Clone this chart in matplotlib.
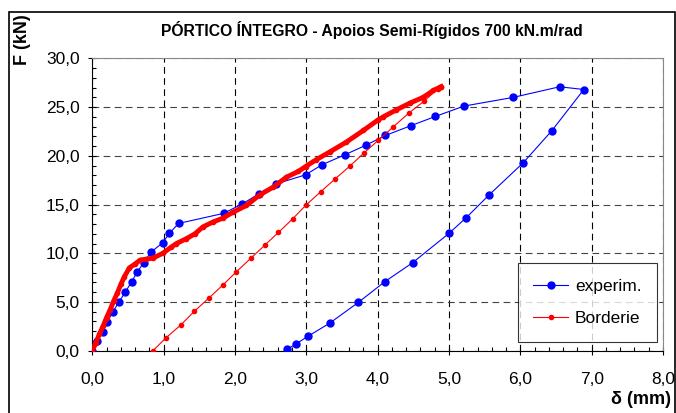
import matplotlib.pyplot as plt
from matplotlib.patches import Rectangle
from matplotlib.ticker import MultipleLocator, FuncFormatter

plt.rcParams['font.family'] = ['Liberation Sans', 'DejaVu Sans']

# experimental curve (loading + unloading), delta in mm, F in kN
exp_d = [0.0, 0.07, 0.145, 0.21, 0.29, 0.37, 0.46, 0.55, 0.63, 0.72, 0.82, 0.99,
         1.08, 1.21, 1.84, 2.10, 2.33, 2.57, 2.99, 3.22, 3.54, 3.83, 4.11, 4.47,
         4.81, 5.21, 5.90, 6.55, 6.89,
         6.44, 6.04, 5.56, 5.24, 5.00, 4.49, 4.10, 3.73, 3.33, 3.03, 2.86, 2.73]
exp_f = [0.0, 1.03, 1.95, 2.97, 4.0, 4.96, 5.99, 7.05, 8.07, 9.03, 10.09, 11.1,
         12.04, 13.06, 14.09, 15.05, 16.07, 17.1, 18.05, 19.08, 20.1, 21.07, 22.09, 23.1,
         24.04, 25.1, 25.99, 27.08, 26.8,
         22.56, 19.28, 15.97, 13.64, 12.04, 9.03, 7.08, 4.96, 2.84, 1.51, 0.72, 0.14]

# Borderie model - loading branch
bl_d = [0.0, 0.05, 0.10, 0.15, 0.20, 0.25, 0.30, 0.35, 0.40, 0.45, 0.52, 0.60, 0.67,
        0.76, 0.85, 0.99, 1.10, 1.18, 1.32, 1.44, 1.55, 1.69, 1.83, 1.97, 2.16,
        2.35, 2.54, 2.72, 2.89, 2.99, 3.14, 3.33, 3.56, 3.80, 4.01, 4.08, 4.26,
        4.45, 4.64, 4.78, 4.89]
bl_f = [0.0, 0.8, 1.7, 2.5, 3.4, 4.2, 5.1, 5.9, 6.8, 7.6, 8.5, 8.9, 9.3,
        9.4, 9.5, 10.0, 10.6, 11.0, 11.5, 12.0, 12.7, 13.2, 13.6, 14.2, 14.9,
        16.0, 16.8, 17.8, 18.4, 18.9, 19.6, 20.4, 21.4, 22.6, 23.7, 24.0, 24.7,
        25.4, 26.0, 26.7, 27.1]

# Borderie model - unloading branch
bu_d = [4.89, 4.85, 4.65, 4.44, 4.22, 4.01, 3.81, 3.61, 3.40, 3.20, 2.99, 2.81,
        2.61, 2.42, 2.22, 2.02, 1.83, 1.63, 1.43, 1.24, 1.03, 0.85]
bu_f = [27.1, 26.9, 25.6, 24.4, 22.97, 21.6, 20.3, 18.94, 17.6, 16.3, 14.9, 13.54,
        12.14, 10.84, 9.47, 8.1, 6.74, 5.37, 4.04, 2.64, 1.3, 0.0]

fig = plt.figure(figsize=(6.76, 4.13), dpi=100)
ax = fig.add_axes([0.1365, 0.1508, 0.8443, 0.708])

ax.plot(exp_d, exp_f, color='#0000ff', lw=0.8, marker='o', ms=5, label='experim.', zorder=3)
ax.plot(bl_d, bl_f, color='#ff0000', lw=3.5, marker='o', ms=3, zorder=4)
ax.plot(bu_d, bu_f, color='#ff0000', lw=0.8, marker='o', ms=3, label='Borderie', zorder=4)

ax.set_xlim(0, 8)
ax.set_ylim(0, 30)
ax.xaxis.set_major_locator(MultipleLocator(1))
ax.xaxis.set_minor_locator(MultipleLocator(0.2))
ax.yaxis.set_major_locator(MultipleLocator(5))
ax.yaxis.set_minor_locator(MultipleLocator(1))
fmt = FuncFormatter(lambda v, p: f'{v:.1f}'.replace('.', ','))
ax.xaxis.set_major_formatter(fmt)
ax.yaxis.set_major_formatter(fmt)
ax.tick_params(which='major', direction='inout', length=6, width=0.8, labelsize=12.5)
ax.tick_params(axis='x', which='major', pad=12)
ax.tick_params(axis='y', which='major', pad=6)
ax.tick_params(which='minor', direction='in', length=3, width=0.8)

ax.grid(True, axis='x', which='major', color='black', ls=(0, (6, 4)), lw=0.8)
ax.grid(True, axis='y', which='major', color='#444444', ls=(0, (6, 4)), lw=0.8)
ax.set_axisbelow(True)
for s in ['top', 'right']:
    ax.spines[s].set_color('#888888')
for s in ['left', 'bottom']:
    ax.spines[s].set_color('black')

ax.set_title('PÓRTICO ÍNTEGRO - Apoios Semi-Rígidos 700 kN.m/rad',
             fontsize=11.3, fontweight='bold', pad=16, x=0.49)
fig.text(0.993, 0.012, 'δ (mm)', fontsize=13, fontweight='bold', ha='right', va='bottom')
fig.text(0.033, 0.965, 'F (kN)', fontsize=13, fontweight='bold', rotation=90,
         ha='center', va='top')

leg = ax.legend(loc='lower right', bbox_to_anchor=(0.99, 0.03), fontsize=12.5,
                frameon=True, fancybox=False, edgecolor='black', borderpad=0.9,
                labelspacing=1.0, handlelength=2.0, handletextpad=0.4, borderaxespad=0)
leg.get_frame().set_linewidth(0.8)

fig.patches.append(Rectangle((9 / 676, -0.02), 666 / 676, 1 - 12 / 413 + 0.02,
                             transform=fig.transFigure, fill=False,
                             edgecolor='black', lw=1.2, clip_on=False))

fig.savefig('out.png', dpi=100)
